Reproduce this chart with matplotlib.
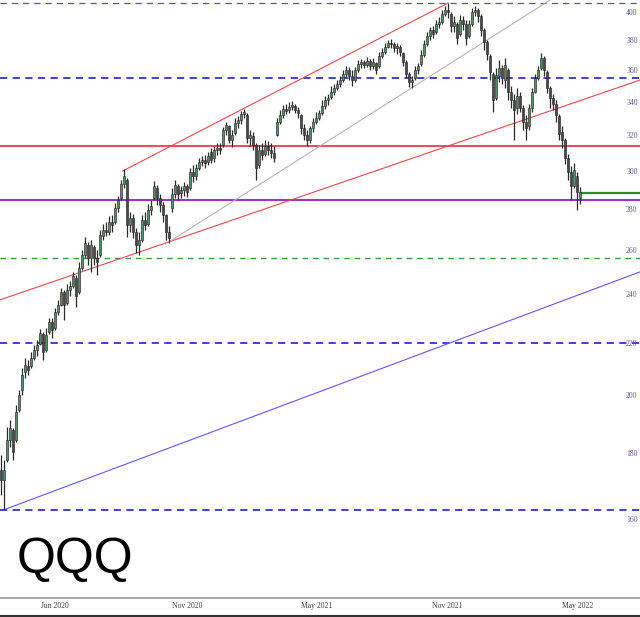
import matplotlib
matplotlib.use('Agg')
import matplotlib.pyplot as plt
from matplotlib.lines import Line2D
from matplotlib.ticker import FixedLocator, NullLocator, FuncFormatter

# ---------------- data (QQQ) ----------------
opens = [174.7, 171.6, 177.9, 184.5, 187.9, 184.5, 194.8, 201.9, 208.6, 210.9,
         210.9, 214.0, 217.1, 219.4, 223.5, 217.1, 224.3, 228.4, 225.9, 232.5,
         235.5, 241.1, 236.4, 242.0, 243.7, 247.3, 241.1, 251.8, 257.8, 262.5,
         256.4, 261.5, 256.4, 257.8, 266.8, 269.7, 268.7, 273.6, 273.6, 280.6,
         285.8, 293.0, 295.2, 272.1, 275.6, 268.7, 262.5, 264.9, 274.6, 272.6,
         279.6, 285.8, 291.0, 285.8, 282.2, 277.1, 268.7, 280.6, 287.8, 292.0,
         288.3, 290.0, 292.0, 291.0, 299.5, 297.3, 301.7, 305.0, 306.1, 305.0,
         310.5, 307.2, 311.6, 312.8, 314.5, 323.2, 325.5, 317.4, 321.4, 327.3,
         329.1, 332.6, 332.0, 318.5, 319.7, 314.5, 303.4, 311.6, 309.4, 313.9,
         311.6, 309.9, 320.3, 327.9, 332.0, 335.6, 335.0, 336.9, 337.5, 335.0,
         332.0, 324.4, 320.3, 317.4, 324.4, 327.9, 330.2, 333.2, 337.5, 341.1,
         343.0, 346.1, 348.6, 351.1, 353.7, 357.6, 360.2, 356.3, 353.7, 360.2,
         364.1, 365.4, 363.5, 366.1, 362.8, 364.8, 362.8, 369.4, 372.1, 375.5,
         378.2, 377.5, 374.8, 375.5, 371.4, 365.4, 357.6, 352.4, 355.0, 360.2,
         364.1, 370.1, 377.5, 383.1, 387.4, 385.8, 391.4, 392.8, 398.6, 401.4,
         398.6, 390.0, 391.4, 384.4, 394.2, 391.4, 383.1, 391.4, 400.0, 401.4,
         397.1, 387.4, 378.9, 369.4, 357.6, 342.4, 356.3, 361.5, 353.7, 360.2,
         346.1, 341.1, 336.3, 343.6, 336.3, 327.9, 325.5, 336.3, 346.1, 355.0,
         361.5, 368.1, 358.9, 348.6, 342.4, 338.7, 331.4, 322.0, 317.4, 307.2,
         299.5, 292.0, 297.3, 286.0]
highs = [179.5, 177.9, 188.9, 191.3, 188.6, 196.5, 201.9, 210.1, 214.0, 213.2,
         216.3, 219.0, 221.0, 225.5, 224.3, 225.9, 230.0, 230.0, 234.2, 237.7,
         242.9, 242.0, 244.6, 245.9, 250.0, 248.7, 254.5, 260.1, 266.3, 263.9,
         264.9, 262.5, 260.1, 269.7, 272.6, 273.6, 276.6, 277.1, 283.2, 286.8,
         295.2, 301.2, 296.2, 278.6, 277.6, 270.7, 268.7, 277.1, 278.6, 282.7,
         284.7, 294.7, 292.5, 287.8, 283.7, 277.6, 271.6, 291.0, 295.2, 293.0,
         292.0, 294.1, 293.0, 301.7, 303.4, 303.9, 307.2, 308.3, 308.8, 310.5,
         312.8, 313.9, 315.6, 315.6, 325.0, 327.9, 326.1, 323.2, 330.2, 331.4,
         334.4, 335.6, 333.2, 323.2, 322.0, 315.6, 314.5, 315.6, 317.4, 316.8,
         315.6, 313.9, 330.2, 335.0, 338.1, 338.7, 339.9, 340.5, 338.7, 336.9,
         332.6, 326.7, 323.2, 325.5, 330.2, 333.8, 335.0, 341.1, 343.6, 344.8,
         349.9, 351.1, 353.7, 356.3, 360.2, 362.8, 362.2, 360.2, 362.2, 366.8,
         367.4, 366.8, 368.7, 367.4, 368.1, 365.4, 372.1, 374.8, 378.2, 380.3,
         381.0, 378.9, 378.2, 376.9, 372.1, 366.7, 358.9, 356.3, 362.8, 364.8,
         373.4, 380.3, 385.8, 389.5, 390.2, 394.2, 396.4, 401.4, 404.3, 406.6,
         400.0, 397.1, 392.8, 397.8, 397.1, 394.2, 394.2, 402.9, 404.3, 402.9,
         398.6, 388.8, 380.3, 370.8, 358.9, 361.5, 366.7, 363.5, 368.1, 361.5,
         349.9, 344.8, 348.6, 346.1, 338.1, 332.0, 338.7, 348.6, 357.6, 362.8,
         371.4, 369.4, 360.2, 349.9, 344.8, 341.1, 332.6, 325.5, 318.5, 309.4,
         302.8, 304.5, 299.5, 291.5]
lows = [167.0, 162.6, 177.3, 182.2, 177.9, 183.8, 194.1, 200.1, 206.4, 207.5,
        210.1, 213.2, 214.7, 219.0, 213.2, 216.3, 223.5, 221.8, 225.1, 231.2,
        235.1, 229.1, 235.5, 239.4, 242.9, 234.7, 240.2, 250.9, 256.4, 253.1,
        250.0, 253.1, 248.7, 256.8, 264.9, 266.8, 267.2, 268.7, 272.6, 278.6,
        284.7, 291.0, 266.3, 268.7, 265.8, 258.7, 257.8, 263.9, 269.7, 271.6,
        277.1, 284.7, 282.2, 278.6, 273.6, 264.9, 263.4, 278.6, 285.8, 284.7,
        285.8, 286.8, 286.3, 290.0, 294.1, 295.2, 300.6, 302.8, 301.7, 303.4,
        304.5, 305.0, 308.8, 309.4, 313.4, 320.3, 315.6, 313.4, 320.3, 324.4,
        326.7, 330.2, 315.6, 313.9, 311.6, 295.2, 301.7, 306.1, 308.3, 308.8,
        307.2, 305.0, 319.7, 326.7, 330.2, 332.6, 333.2, 335.0, 333.2, 330.2,
        320.8, 317.4, 313.9, 315.6, 322.0, 326.7, 329.1, 332.0, 335.6, 338.1,
        341.6, 344.2, 347.4, 349.2, 352.4, 355.6, 353.7, 349.9, 352.4, 358.9,
        361.5, 361.5, 362.2, 360.2, 360.9, 357.6, 361.5, 368.1, 370.8, 374.8,
        374.8, 372.1, 370.8, 369.4, 362.8, 355.0, 349.2, 348.6, 353.7, 357.6,
        362.8, 368.7, 376.2, 380.3, 381.7, 384.4, 388.8, 391.4, 397.1, 395.7,
        385.8, 385.8, 377.5, 383.1, 387.4, 376.9, 381.7, 390.0, 397.1, 392.8,
        383.1, 373.4, 366.7, 353.7, 333.8, 341.1, 352.4, 351.1, 348.6, 341.1,
        336.3, 317.4, 332.6, 333.8, 323.2, 317.4, 323.2, 333.8, 345.5, 353.7,
        360.2, 356.3, 345.5, 336.3, 335.0, 327.9, 317.4, 312.8, 303.9, 295.2,
        284.7, 291.0, 279.6, 282.5]
closes = [171.6, 174.7, 184.5, 188.6, 180.5, 194.1, 200.1, 207.5, 211.3, 209.4,
          214.0, 217.1, 219.0, 223.9, 216.3, 223.1, 228.4, 225.1, 232.5, 235.5,
          241.1, 235.5, 242.0, 243.7, 248.2, 239.4, 251.8, 257.8, 263.4, 256.4,
          262.5, 256.4, 254.5, 267.2, 269.7, 268.7, 273.6, 272.1, 280.6, 284.7,
          293.0, 297.3, 272.1, 275.6, 268.7, 262.5, 264.9, 274.6, 272.1, 279.6,
          281.7, 292.0, 285.8, 282.2, 277.1, 268.7, 265.8, 287.8, 292.5, 287.8,
          290.0, 292.0, 288.9, 299.5, 297.3, 301.7, 305.0, 306.1, 304.5, 308.3,
          306.1, 311.6, 312.8, 311.6, 323.2, 326.1, 317.4, 320.3, 327.3, 329.1,
          332.6, 333.8, 318.5, 320.3, 314.5, 301.7, 311.6, 308.8, 313.9, 311.6,
          309.9, 307.2, 327.9, 332.0, 335.6, 334.4, 336.9, 338.1, 335.0, 333.2,
          324.4, 320.3, 317.4, 324.4, 327.9, 330.2, 333.2, 337.5, 341.1, 342.4,
          346.1, 348.6, 351.1, 353.7, 357.6, 360.2, 356.3, 353.7, 360.2, 364.1,
          365.4, 363.5, 366.1, 362.8, 365.4, 360.2, 369.4, 372.1, 375.5, 378.2,
          377.5, 374.8, 376.2, 372.1, 365.4, 357.6, 352.4, 353.7, 360.2, 362.8,
          370.1, 377.5, 383.1, 387.4, 384.4, 391.4, 392.8, 398.6, 401.4, 400.0,
          390.0, 392.8, 381.7, 394.2, 391.4, 381.7, 391.4, 400.0, 401.4, 397.1,
          387.4, 378.9, 370.8, 358.9, 341.1, 356.9, 361.5, 355.0, 363.5, 346.1,
          341.1, 335.0, 343.6, 336.3, 327.9, 324.4, 336.3, 346.1, 355.0, 360.2,
          368.1, 360.2, 348.6, 342.4, 338.7, 332.0, 320.8, 317.4, 307.2, 299.5,
          292.0, 300.6, 288.9, 289.0]

ytick_vals = [160, 180, 200, 220, 240, 260, 280, 300, 320, 340, 360, 380, 400]
xtick_labels = ['Jun 2020', 'Nov 2020', 'May 2021', 'Nov 2021', 'May 2022']
xtick_pos = [18, 62, 105.3, 148.7, 192.3]

# horizontal levels
blue_dash_levels = [355.0, 219.9, 162.5]
top_dash_level = 406.6
green_dash_level = 256.4
red_level = 313.9
purple_level = 284.7
green_level = 288.4

# trend lines: (bar index, price) anchors
upper_red = [(40.5, 300.0), (149, 406.6)]
lower_red = [(0, 237.8), (213, 353.7)]
gray_line = [(56, 263.9), (200, 433.4)]
blue_line = [(1, 162.6), (213, 250.0)]

# ---------------- figure ----------------
plt.rcParams['font.family'] = ['Liberation Serif', 'DejaVu Serif']
fig = plt.figure(figsize=(6.4, 6.17), dpi=100)
ax = fig.add_axes([0, 19 / 617, 1, 598 / 617])
ax.set_yscale('log')
ax.set_ylim(138.6, 408.8)
ax.set_xlim(-1 / 3, 213)

# horizontal lines (behind candles)
for lv in blue_dash_levels:
    ax.axhline(lv, color='#3232c8', lw=1.3, dashes=(4, 3), zorder=1)
ax.axhline(top_dash_level, color='#5050d0', lw=0.9, dashes=(5, 4), zorder=1)
ax.axhline(green_dash_level, color='#3a9a3a', lw=1.0, dashes=(4, 3.5), zorder=1)
ax.axhline(red_level, color='#e23434', lw=1.2, zorder=1)
ax.axhline(purple_level, color='#9b35d2', lw=1.5, zorder=1)

# trend lines
ax.plot([p[0] for p in upper_red], [p[1] for p in upper_red], color='#e8484c', lw=0.8, zorder=1)
ax.axline(lower_red[0], lower_red[1], color='#e8484c', lw=0.8, zorder=1)
ax.plot([p[0] for p in gray_line], [p[1] for p in gray_line], color='#b4b4b4', lw=0.8, zorder=1)
ax.plot([p[0] for p in blue_line], [p[1] for p in blue_line], color='#5a5af0', lw=0.8, zorder=1)

# candles
n = len(closes)
for i in range(n):
    o, h, l, c = opens[i], highs[i], lows[i], closes[i]
    ax.vlines(i, l, h, color='#2a2a2a', lw=0.9, zorder=2)
    up = c >= o
    lo_b, hi_b = (o, c) if up else (c, o)
    if hi_b - lo_b < 0.4:
        hi_b = lo_b + 0.4
    ax.bar(i, hi_b - lo_b, bottom=lo_b, width=0.9,
           color='#5a9068' if up else '#4a4a4a',
           edgecolor='#1e1e1e', linewidth=0.4, zorder=3)

# green level after last bar
ax.plot([n - 0.5, 213], [green_level, green_level], color='#2f8a2f', lw=1.6, zorder=2)

# axes styling
for s in ['top', 'left', 'right']:
    ax.spines[s].set_visible(False)
ax.spines['bottom'].set_color('#9a9a9a')
ax.spines['bottom'].set_linewidth(1.2)

ax.yaxis.set_major_locator(FixedLocator(ytick_vals))
ax.yaxis.set_minor_locator(NullLocator())
ax.yaxis.set_major_formatter(FuncFormatter(lambda v, p: f'{v:.0f}'))
ax.tick_params(axis='y', which='both', left=False, right=False,
               labelleft=False, labelright=True, pad=-13.5,
               labelsize=5.5, labelcolor='#5b5b8c')

ax.set_xticks(xtick_pos)
ax.set_xticklabels(xtick_labels)
ax.tick_params(axis='x', length=0, pad=3, labelsize=5.5, labelcolor='#3c3c3c')

fig.text(17 / 640, 1 - 573 / 617, 'QQQ', fontsize=36, family='Liberation Sans',
         color='black', ha='left', va='baseline')

fig.add_artist(Line2D([0, 1], [1 - 615.5 / 617] * 2, transform=fig.transFigure,
                      color='#333333', lw=1.5))

fig.savefig('out.png', dpi=100, facecolor='white')
